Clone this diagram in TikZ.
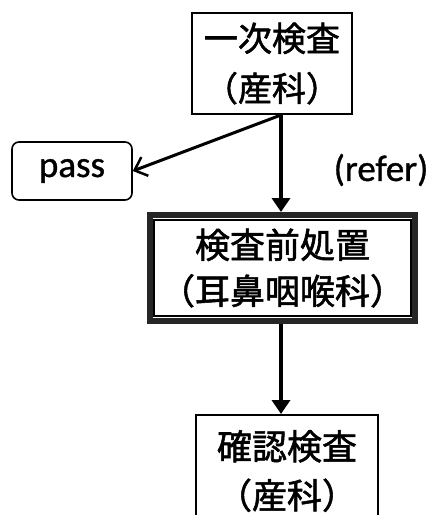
\documentclass[tikz,border=0pt]{standalone}
\usepackage{fontspec}
\newfontfamily\jpfont[FakeBold=1.6]{Noto Sans CJK JP}
\newfontfamily\latfont[FakeBold=1.0]{Carlito}
\usetikzlibrary{arrows.meta}
\begin{document}
\begin{tikzpicture}[x=1pt,y=-1pt,
  jbox/.style={draw=black, line width=2pt, align=center, inner sep=0pt,
    font=\jpfont\fontsize{34}{50}\selectfont},
  passbox/.style={draw=black, line width=1.6pt, rounded corners=7pt, inner sep=0pt,
    minimum width=120pt, minimum height=58pt, font=\latfont\fontsize{37}{40}\selectfont},
  thickarrow/.style={line width=4.5pt, -{Triangle[width=18pt,length=14pt]}},
  passarrow/.style={line width=3pt, -{Straight Barb[width=20pt,length=11pt,line width=2.5pt]}}]
\clip (0,0) rectangle (436,515);
\useasboundingbox (0,0) rectangle (436,515);
% primary exam
\node[jbox, minimum width=160pt, minimum height=101pt] (b1) at (272,63.5)
  {一次検査\\（産科）};
% pass
\node[passbox] (pass) at (72,171) {pass};
% refer label
\node[font=\latfont\fontsize{37}{40}\selectfont, inner sep=0pt] (refer) at (381,170) {(refer)};
% pretreatment (double frame)
\node[draw=black!85, line width=6pt, align=center, inner sep=0pt,
  minimum width=265pt, minimum height=106pt,
  font=\jpfont\fontsize{35}{46}\selectfont] (b2) at (282.5,268)
  {検査前処置\\（耳鼻咽喉科）};
\draw[line width=1.5pt] ([shift={(7pt,-8pt)}]b2.north west) rectangle ([shift={(-7pt,8pt)}]b2.south east);
% confirm exam
\node[jbox, minimum width=182pt, minimum height=112pt,
  font=\jpfont\fontsize{35}{49}\selectfont] (b3) at (287,471)
  {確認検査\\（産科）};
% connectors
\coordinate (split) at (b1.south -| 281,0);
\draw[thickarrow] (split) -- (split |- b2.north);
\draw[passarrow] (split) -- (pass.east);
\draw[thickarrow] (b2.south -| split) -- (b3.north -| split);
\end{tikzpicture}
\end{document}
